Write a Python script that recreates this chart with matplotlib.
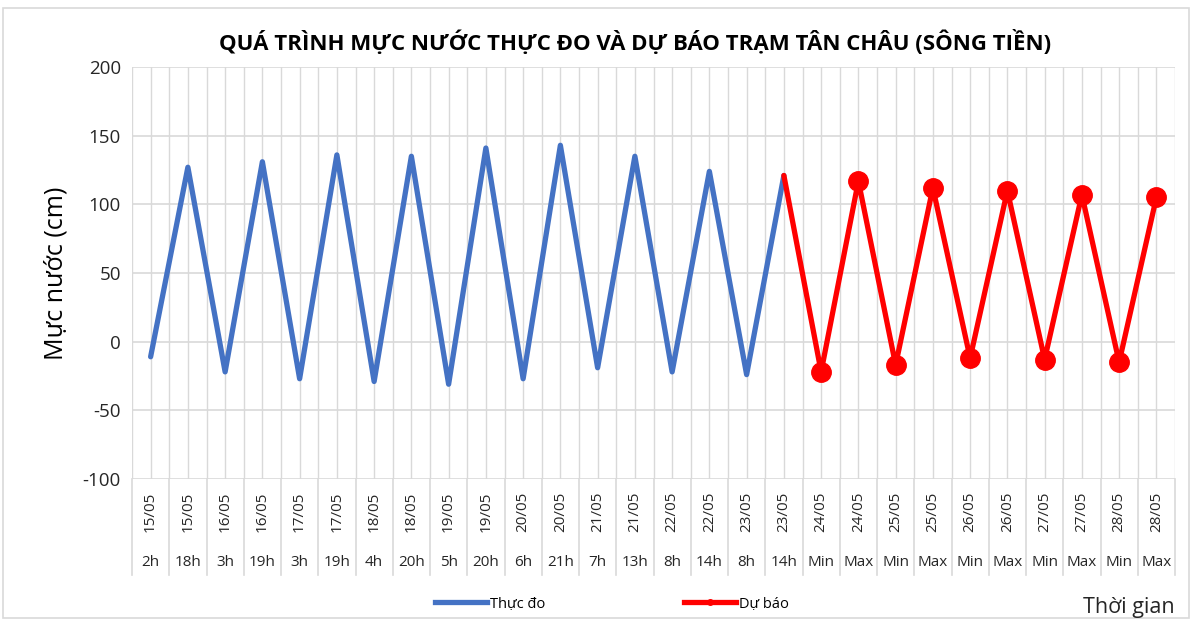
import numpy as np
import matplotlib
matplotlib.use("Agg")
import matplotlib.pyplot as plt
from matplotlib.lines import Line2D
from matplotlib.patches import Rectangle
import matplotlib.transforms as mtransforms

plt.rcParams['font.family'] = ['Open Sans', 'DejaVu Sans']
plt.rcParams['axes.unicode_minus'] = False

# data
dates = ["15/05", "15/05", "16/05", "16/05", "17/05", "17/05", "18/05", "18/05",
         "19/05", "19/05", "20/05", "20/05", "21/05", "21/05", "22/05", "22/05",
         "23/05", "23/05", "24/05", "24/05", "25/05", "25/05", "26/05", "26/05",
         "27/05", "27/05", "28/05", "28/05"]
hours = ["2h", "18h", "3h", "19h", "3h", "19h", "4h", "20h", "5h", "20h", "6h", "21h",
         "7h", "13h", "8h", "14h", "8h", "14h", "Min", "Max", "Min", "Max", "Min", "Max",
         "Min", "Max", "Min", "Max"]
observed = [-11, 127, -22, 131, -27, 136, -29, 135, -31, 141, -27, 143,
            -19, 135, -22, 124, -24, 121]
forecast = [121, -22, 117, -17, 112, -12, 110, -13, 107, -15, 105]

n = len(dates)
x_obs = np.arange(len(observed))
x_fc = np.arange(len(observed) - 1, len(observed) - 1 + len(forecast))

W, H = 1193, 622
fig = plt.figure(figsize=(W / 100, H / 100), dpi=100)
ax = fig.add_axes([132 / W, 1 - 479 / H, (1175 - 132) / W, (479 - 67) / H])

grid_c = "#d9d9d9"
# gridlines: horizontal at ticks, vertical at category centres and edges
for yv in range(-100, 201, 50):
    ax.axhline(yv, color=grid_c, lw=1.2, zorder=0)
for xv in np.arange(-0.5, n, 0.5):
    ax.axvline(xv, color=grid_c, lw=1.0, zorder=0)

ax.plot(x_obs, observed, color="#4472c4", lw=3.8, solid_capstyle="round",
        solid_joinstyle="round", zorder=3)
ax.plot(x_fc, forecast, color="#ff0000", lw=3.8, solid_capstyle="round",
        solid_joinstyle="round", zorder=4)
ax.plot(x_fc[1:], forecast[1:], ls="none", marker="o", ms=14, color="#ff0000", zorder=5)

ax.set_xlim(-0.5, n - 0.5)
ax.set_ylim(-100, 200)
ax.set_yticks(range(-100, 201, 50))
ax.tick_params(axis="y", length=0, labelsize=13.5, pad=8, labelcolor="#262626")
ax.set_xticks([])
for s in ax.spines.values():
    s.set_visible(False)

ax.set_ylabel("Mực nước (cm)", fontsize=18, labelpad=10, color="#000000")

# multi-level category labels
trans = mtransforms.blended_transform_factory(ax.transData, fig.transFigure)
for i in range(n):
    ax.text(i, 1 - 512 / H, dates[i], transform=trans, rotation=90,
            ha="center", va="center", fontsize=11, color="#262626")
    ax.text(i, 1 - 563 / H, hours[i], transform=trans,
            ha="center", va="center", fontsize=11, color="#262626")
for xv in np.arange(-0.5, n, 1.0):
    ax.add_line(Line2D([xv, xv], [1 - 479 / H, 1 - 575 / H], transform=trans,
                       color=grid_c, lw=1.2, clip_on=False))

fig.text(635 / W, 1 - 42 / H, "QUÁ TRÌNH MỰC NƯỚC THỰC ĐO VÀ DỰ BÁO TRẠM TÂN CHÂU (SÔNG TIỀN)",
         ha="center", va="center", fontsize=16, fontweight="bold", color="#000000")
fig.text(1175 / W, 1 - 607 / H, "Thời gian", ha="right", va="center",
         fontsize=15.5, color="#262626")

handles = [Line2D([], [], color="#4472c4", lw=3.8),
           Line2D([], [], color="#ff0000", lw=3.8, marker="o", ms=4)]
fig.legend(handles, ["Thực đo", "Dự báo"], loc="center", ncol=2,
           bbox_to_anchor=(612 / W, 1 - 604 / H), frameon=False, fontsize=10.5,
           handlelength=3.6, handletextpad=0.2, columnspacing=9.5)

fig.add_artist(Rectangle((3 / W, 4 / H), (W - 7) / W, (H - 12) / H,
                         transform=fig.transFigure, fill=False,
                         edgecolor="#d9d9d9", lw=1.2))

fig.savefig("out.png", dpi=100)
